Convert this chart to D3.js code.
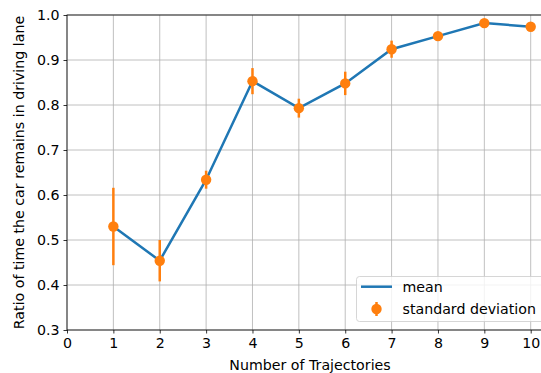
<!DOCTYPE html>
<html><head><meta charset="utf-8">
<script src="https://cdn.jsdelivr.net/npm/d3@7"></script>
<style>
body{margin:0;background:#fff;}
svg{display:block;font-family:"DejaVu Sans",sans-serif;}
</style></head>
<body><svg id="c" width="541" height="373"></svg>
<script>
const trajectories = [1,2,3,4,5,6,7,8,9,10];
const meanValues = [0.530,0.454,0.634,0.853,0.793,0.848,0.924,0.953,0.982,0.974];
const stdValues = [0.086,0.046,0.020,0.029,0.021,0.026,0.019,0.005,0.004,0.004];
const xTicks = [0,1,2,3,4,5,6,7,8,9,10];
const yTicks = [0.3,0.4,0.5,0.6,0.7,0.8,0.9,1.0];
const legendLabels = ["mean","standard deviation"];

const svg = d3.select("#c");
const L = 67, T = 15, B = 330;
const x = d3.scaleLinear().domain([0,10.5]).range([L, L + 10.5*46.37]);
const y = d3.scaleLinear().domain([0.3,1.0]).range([B, T]);
const R = x(10.5);
const fs = 14.2;

// grid
const g = svg.append("g");
g.selectAll(".gx").data(xTicks).enter().append("line")
  .attr("x1",d=>x(d)).attr("x2",d=>x(d)).attr("y1",T).attr("y2",B)
  .attr("stroke","#b0b0b0").attr("stroke-width",0.8);
g.selectAll(".gy").data(yTicks).enter().append("line")
  .attr("x1",L).attr("x2",R).attr("y1",d=>y(d)).attr("y2",d=>y(d))
  .attr("stroke","#b0b0b0").attr("stroke-width",0.8);

// axes
const xAxis = d3.axisBottom(x).tickValues(xTicks).tickFormat(d3.format("d")).tickSize(3.5).tickPadding(4);
const yAxis = d3.axisLeft(y).tickValues(yTicks).tickFormat(d3.format(".1f")).tickSize(3.5).tickPadding(4);
const gx = svg.append("g").attr("transform",`translate(0,${B})`).call(xAxis);
const gy = svg.append("g").attr("transform",`translate(${L},0)`).call(yAxis);
[gx,gy].forEach(a=>{
  a.select(".domain").remove();
  a.selectAll("line").attr("stroke","#000").attr("stroke-width",0.8);
  a.selectAll("text").attr("font-size",fs).attr("fill","#000").attr("font-family","DejaVu Sans");
});
// spines
svg.append("rect").attr("x",L).attr("y",T).attr("width",R-L).attr("height",B-T)
  .attr("fill","none").attr("stroke","#000").attr("stroke-width",0.8);

// mean line
const line = d3.line().x((d,i)=>x(trajectories[i])).y(d=>y(d));
svg.append("path").datum(meanValues).attr("d",line)
  .attr("fill","none").attr("stroke","#1f77b4").attr("stroke-width",2.5);

// error bars
const eb = svg.append("g");
eb.selectAll("line").data(trajectories).enter().append("line")
  .attr("x1",d=>x(d)).attr("x2",d=>x(d))
  .attr("y1",(d,i)=>y(meanValues[i]-stdValues[i]))
  .attr("y2",(d,i)=>y(meanValues[i]+stdValues[i]))
  .attr("stroke","#ff7f0e").attr("stroke-width",2.5);
eb.selectAll("circle").data(trajectories).enter().append("circle")
  .attr("cx",d=>x(d)).attr("cy",(d,i)=>y(meanValues[i])).attr("r",5.2)
  .attr("fill","#ff7f0e");

// legend
const lg = svg.append("g");
lg.append("rect").attr("x",356.5).attr("y",276.5).attr("width",190).attr("height",45)
  .attr("rx",3).attr("fill","#fff").attr("fill-opacity",0.8).attr("stroke","#cccccc").attr("stroke-width",0.8);
lg.append("line").attr("x1",361).attr("x2",392).attr("y1",286.7).attr("y2",286.7)
  .attr("stroke","#1f77b4").attr("stroke-width",2.5);
lg.append("line").attr("x1",376.5).attr("x2",376.5).attr("y1",302).attr("y2",316)
  .attr("stroke","#ff7f0e").attr("stroke-width",2.5);
lg.append("circle").attr("cx",376.5).attr("cy",309).attr("r",5.2).attr("fill","#ff7f0e");
lg.selectAll("text").data(legendLabels).enter().append("text")
  .attr("x",402.5).attr("y",(d,i)=>291.5+i*22).attr("font-size",fs).text(d=>d);

// axis labels
svg.append("text").attr("x",310).attr("y",370).attr("text-anchor","middle")
  .attr("font-size",fs).text("Number of Trajectories");
svg.append("text").attr("transform",`translate(24,${(T+B)/2}) rotate(-90)`)
  .attr("text-anchor","middle").attr("font-size",fs).text("Ratio of time the car remains in driving lane");
</script></body></html>
